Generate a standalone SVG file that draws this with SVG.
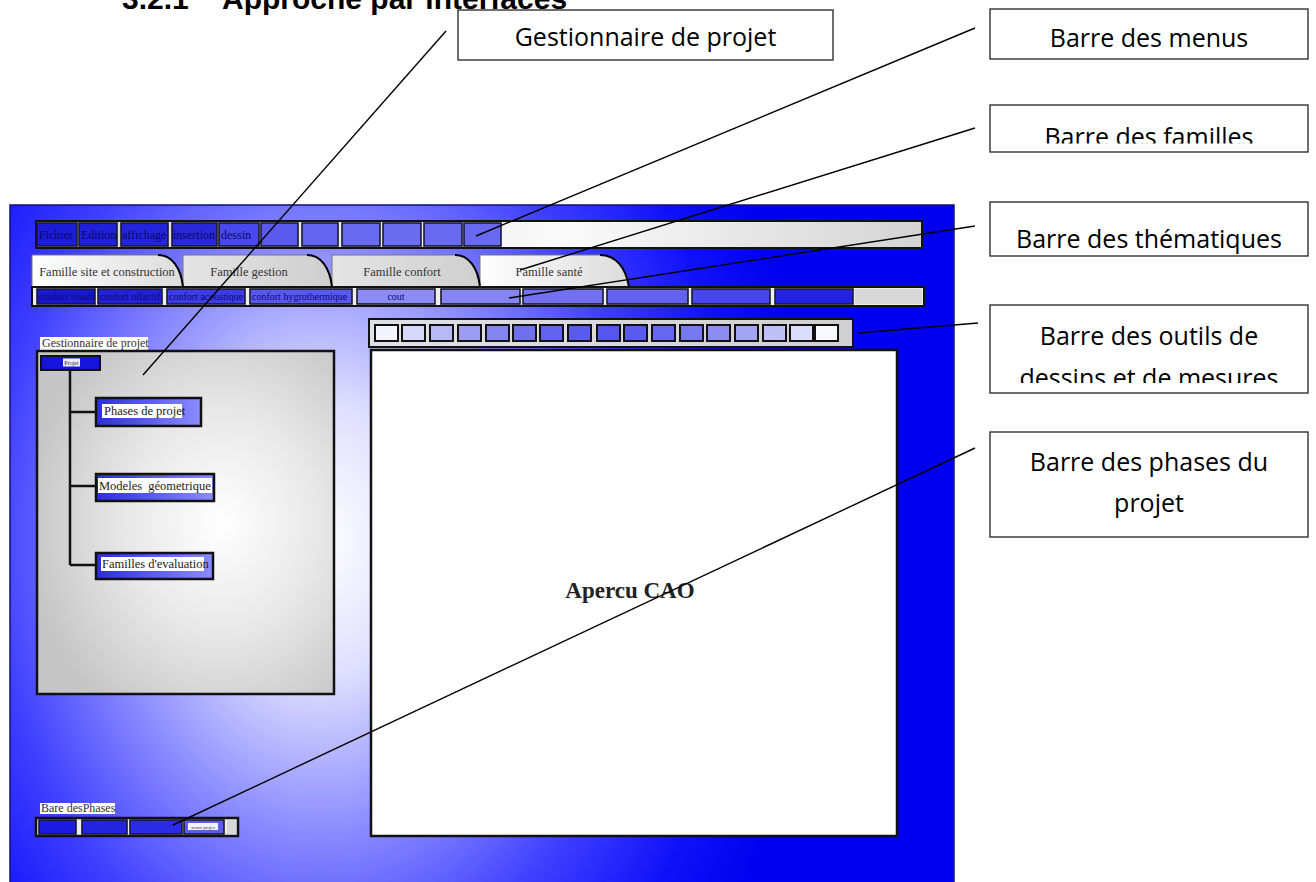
<svg xmlns="http://www.w3.org/2000/svg" width="1316" height="882" viewBox="0 0 1316 882">
<style>
.lbl{font-family:"Open Sans","Liberation Sans",sans-serif;font-size:25px;fill:#000;text-anchor:middle}
.lbox{fill:#fff;stroke:#222;stroke-width:1.3}
.ser{font-family:"Liberation Serif","Times New Roman",serif}
.btn{stroke:#1a1a2a;stroke-width:1.6}
.mtxt{font-family:"Liberation Serif","Times New Roman",serif;font-size:12px;fill:#08086a}
.ttxt{font-family:"Liberation Serif","Times New Roman",serif;font-size:10px;fill:#0a0a7a}
.tab{stroke:#777;stroke-width:1}
.tabc{fill:none;stroke:#000;stroke-width:2}
.tabt{font-family:"Liberation Serif","Times New Roman",serif;font-size:12.5px;fill:#333;text-anchor:middle}
.sq{stroke:#111;stroke-width:2}
.node{fill:url(#nodeG);stroke:#111;stroke-width:2.5}
.ntxt{font-family:"Liberation Serif","Times New Roman",serif;font-size:12.5px;fill:#222;white-space:pre}
.conn line{stroke:#000;stroke-width:1.4}
</style>
<defs>
<radialGradient id="bg" gradientUnits="userSpaceOnUse" cx="320" cy="540" r="500" gradientTransform="translate(320 540) scale(1 1.35) translate(-320 -540)">
<stop offset="0" stop-color="#ffffff"/>
<stop offset="0.2" stop-color="#e0e0ff"/>
<stop offset="0.42" stop-color="#9090ff"/>
<stop offset="0.65" stop-color="#4040ff"/>
<stop offset="0.85" stop-color="#1010f8"/>
<stop offset="1" stop-color="#0000ee"/>
</radialGradient>
<linearGradient id="barG" x1="0" y1="0" x2="1" y2="0">
<stop offset="0" stop-color="#d8d8e4"/>
<stop offset="0.6" stop-color="#fafafa"/>
<stop offset="1" stop-color="#d4d4d4"/>
</linearGradient>
<linearGradient id="tabW" x1="0" y1="0" x2="1" y2="0">
<stop offset="0" stop-color="#ffffff"/>
<stop offset="1" stop-color="#dcdcdc"/>
</linearGradient>
<linearGradient id="tabG" x1="0" y1="0" x2="1" y2="0">
<stop offset="0" stop-color="#e4e4e4"/>
<stop offset="1" stop-color="#cfcfcf"/>
</linearGradient>
<linearGradient id="toolG" x1="0" y1="0" x2="1" y2="0">
<stop offset="0" stop-color="#e0e0e8"/>
<stop offset="1" stop-color="#d0d0d0"/>
</linearGradient>
<radialGradient id="panelG" cx="0.62" cy="0.5" r="0.65">
<stop offset="0" stop-color="#ffffff"/>
<stop offset="0.5" stop-color="#e8e8e8"/>
<stop offset="1" stop-color="#c6c6c6"/>
</radialGradient>
<linearGradient id="nodeG" x1="0" y1="0" x2="1" y2="0">
<stop offset="0" stop-color="#2c2ce0"/>
<stop offset="1" stop-color="#8c8cff"/>
</linearGradient>
<clipPath id="clipFam"><rect x="990" y="105" width="318" height="38.5"/></clipPath>
<clipPath id="clipOut"><rect x="990" y="305" width="318" height="78"/></clipPath>
</defs>

<g id="title">
<text x="122" y="9" font-family="Liberation Sans, Arial, sans-serif" font-size="30" font-weight="bold" fill="#000">3.2.1</text>
<text x="222" y="9" font-family="Liberation Sans, Arial, sans-serif" font-size="30" font-weight="bold" fill="#000">Approche par interfaces</text>
</g>

<g id="screen">
<rect x="10" y="205" width="944" height="690" fill="url(#bg)" stroke="#10107a" stroke-width="1.5"/>
</g>

<g id="menu-bar">
<rect x="36" y="221" width="886" height="27" fill="url(#barG)" stroke="#111" stroke-width="2"/>
<rect class="btn" x="37" y="223" width="40" height="23" fill="#1c1cd8"/>
<rect class="btn" x="79" y="223" width="38" height="23" fill="#2020d8"/>
<rect class="btn" x="121" y="223" width="47" height="23" fill="#2424dc"/>
<rect class="btn" x="172" y="223" width="45" height="23" fill="#2828d8"/>
<rect class="btn" x="219" y="223" width="40" height="23" fill="#4848ee"/>
<rect class="btn" x="261" y="223" width="37" height="23" fill="#5a5aee"/>
<rect class="btn" x="302" y="223" width="36" height="23" fill="#6464f0"/>
<rect class="btn" x="342" y="223" width="38" height="23" fill="#6a6af0"/>
<rect class="btn" x="383" y="223" width="38" height="23" fill="#6c6cf0"/>
<rect class="btn" x="424" y="223" width="38" height="23" fill="#6a6af0"/>
<rect class="btn" x="464" y="223" width="37" height="23" fill="#6868f0"/>
<text class="mtxt" x="39" y="239">Fichier</text>
<text class="mtxt" x="81" y="239">Edition</text>
<text class="mtxt" x="122" y="239">affichage</text>
<text class="mtxt" x="173" y="239">insertion</text>
<text class="mtxt" x="221" y="239">dessin</text>
</g>

<g id="family-tabs">
<path class="tab" d="M32,287 V255 H158 C172,255 181,268 183,287 Z" fill="url(#tabW)"/>
<path class="tab" d="M183,287 V255 H307 C321,255 330,268 332,287 Z" fill="url(#tabG)"/>
<path class="tab" d="M332,287 V255 H455 C469,255 478,268 480,287 Z" fill="url(#tabG)"/>
<path class="tab" d="M480,287 V255 H600 C616,255 626,268 629,287 Z" fill="url(#tabW)"/>
<path class="tabc" d="M158,255 C172,255 181,268 183,287"/>
<path class="tabc" d="M307,255 C321,255 330,268 332,287"/>
<path class="tabc" d="M455,255 C469,255 478,268 480,287"/>
<path class="tabc" d="M600,255 C616,255 626,268 629,287"/>
<text class="tabt" x="107" y="276">Famille site et construction</text>
<text class="tabt" x="249" y="276">Famille gestion</text>
<text class="tabt" x="402" y="276">Famille confort</text>
<text class="tabt" x="549" y="276">Famille santé</text>
</g>

<g id="thematic-bar">
<rect x="32" y="287" width="892" height="19" fill="#eeeeee" stroke="#111" stroke-width="2"/>
<rect x="855" y="289" width="67" height="15" fill="#d8d8d8"/>
<rect class="btn" x="37" y="289" width="58" height="15" fill="#1818d0"/>
<rect class="btn" x="98" y="289" width="64" height="15" fill="#2222d8"/>
<rect class="btn" x="167" y="289" width="78" height="15" fill="#3c3ce8"/>
<rect class="btn" x="250" y="289" width="102" height="15" fill="#5858ee"/>
<rect class="btn" x="357" y="289" width="78" height="15" fill="#8c8cf4"/>
<rect class="btn" x="441" y="289" width="79" height="15" fill="#8484f2"/>
<rect class="btn" x="523" y="289" width="80" height="15" fill="#7272f0"/>
<rect class="btn" x="607" y="289" width="81" height="15" fill="#6262ee"/>
<rect class="btn" x="692" y="289" width="78" height="15" fill="#4646ec"/>
<rect class="btn" x="775" y="289" width="78" height="15" fill="#2222e4"/>
<text class="ttxt" x="39" y="300" fill="#04045a">confort visuel</text>
<text class="ttxt" x="100" y="300" fill="#06066a">confort olfactif</text>
<text class="ttxt" x="169" y="300">confort acoustique</text>
<text class="ttxt" x="252" y="300">confort hygrothermique</text>
<text class="ttxt" x="396" y="300" text-anchor="middle" fill="#333">cout</text>
</g>

<g id="tools-bar">
<rect x="369" y="319" width="484" height="28" fill="url(#toolG)" stroke="#111" stroke-width="2"/>
<rect class="sq" x="375" y="325" width="23" height="16" fill="#f4f4ff"/>
<rect class="sq" x="402" y="325" width="23" height="16" fill="#d8d8fa"/>
<rect class="sq" x="430" y="325" width="23" height="16" fill="#b8b8f6"/>
<rect class="sq" x="458" y="325" width="23" height="16" fill="#9c9cf2"/>
<rect class="sq" x="486" y="325" width="23" height="16" fill="#8484f0"/>
<rect class="sq" x="513" y="325" width="23" height="16" fill="#7070ee"/>
<rect class="sq" x="540" y="325" width="23" height="16" fill="#6262ee"/>
<rect class="sq" x="568" y="325" width="23" height="16" fill="#5a5aee"/>
<rect class="sq" x="597" y="325" width="23" height="16" fill="#5656ee"/>
<rect class="sq" x="624" y="325" width="23" height="16" fill="#5a5aee"/>
<rect class="sq" x="652" y="325" width="23" height="16" fill="#6666ee"/>
<rect class="sq" x="680" y="325" width="23" height="16" fill="#7878f0"/>
<rect class="sq" x="707" y="325" width="23" height="16" fill="#8c8cf2"/>
<rect class="sq" x="735" y="325" width="23" height="16" fill="#a4a4f4"/>
<rect class="sq" x="763" y="325" width="23" height="16" fill="#c0c0f8"/>
<rect class="sq" x="790" y="325" width="23" height="16" fill="#dcdcfc"/>
<rect class="sq" x="815" y="325" width="23" height="16" fill="#f8f8ff"/>
</g>

<g id="cad-view">
<rect x="371" y="350" width="526" height="486" fill="#fff" stroke="#111" stroke-width="2.5"/>
<text x="630" y="598" class="ser" font-size="23" font-weight="bold" fill="#222" text-anchor="middle">Apercu CAO</text>
</g>

<g id="project-manager">
<rect x="40" y="337" width="108" height="13" fill="#fff"/>
<text x="42" y="347" class="ser" font-size="12" fill="#333">Gestionnaire de projet</text>
<rect x="37" y="351" width="297" height="343" fill="url(#panelG)" stroke="#111" stroke-width="2.5"/>
<path d="M70,370 V565 M70,412 H96 M70,486 H96 M70,565 H96" fill="none" stroke="#111" stroke-width="2.5"/>
<g id="node-projet">
<rect x="41" y="356" width="59" height="14" fill="#1414dc" stroke="#111" stroke-width="2"/>
<rect x="63" y="358.5" width="17" height="8" fill="#f0f0ff"/>
<text x="71.5" y="365" class="ser" font-size="6" fill="#222" text-anchor="middle">Projet</text>
</g>
<g id="node-phases">
<rect class="node" x="96" y="398" width="105" height="28"/>
<rect x="102" y="404" width="80" height="14" fill="#fff"/>
<text class="ntxt" x="104" y="415">Phases de projet</text>
</g>
<g id="node-modeles">
<rect class="node" x="96" y="474" width="118" height="27"/>
<rect x="98" y="478" width="114" height="15" fill="#fff"/>
<text class="ntxt" x="99" y="490">Modeles  géometrique</text>
</g>
<g id="node-familles">
<rect class="node" x="96" y="553" width="117" height="26"/>
<rect x="101" y="557" width="103" height="14" fill="#fff"/>
<text class="ntxt" x="102" y="568" font-size="12">Familles d'evaluation</text>
</g>
</g>

<g id="phases-bar">
<rect x="40" y="803" width="75" height="11" fill="#fff"/>
<text x="41" y="812" class="ser" font-size="12" fill="#333">Bare desPhases</text>
<rect x="36" y="818" width="202" height="18" fill="#eeeeee" stroke="#111" stroke-width="2.5"/>
<rect x="227" y="820" width="9" height="14" fill="#d8d8d8"/>
<rect class="btn" x="39" y="820" width="37" height="14" fill="#1a1ae0"/>
<rect class="btn" x="82" y="820" width="45" height="14" fill="#2424e0"/>
<rect class="btn" x="130" y="820" width="52" height="14" fill="#2c2ce8"/>
<rect class="btn" x="184" y="820" width="40" height="14" fill="#5c5cf0"/>
<rect x="188" y="823" width="30" height="7" fill="#f4f4ff"/>
<text x="203" y="828.5" class="ser" font-size="5" fill="#333" text-anchor="middle">avant projet</text>
</g>

<g id="label-gestionnaire">
<rect class="lbox" x="458" y="10" width="375" height="50"/>
<text class="lbl" x="645.5" y="46">Gestionnaire de projet</text>
</g>
<g id="label-menus">
<rect class="lbox" x="990" y="9" width="318" height="50"/>
<text class="lbl" x="1149" y="47">Barre des menus</text>
</g>
<g id="label-familles">
<rect class="lbox" x="990" y="105" width="318" height="47"/>
<text class="lbl" x="1149" y="146" clip-path="url(#clipFam)">Barre des familles</text>
</g>
<g id="label-thematiques">
<rect class="lbox" x="990" y="202" width="318" height="54"/>
<text class="lbl" x="1149" y="248">Barre des thématiques</text>
</g>
<g id="label-outils">
<rect class="lbox" x="990" y="305" width="318" height="88"/>
<g clip-path="url(#clipOut)">
<text class="lbl" x="1149" y="345">Barre des outils de</text>
<text class="lbl" x="1149" y="387">dessins et de mesures</text>
</g>
</g>
<g id="label-phases">
<rect class="lbox" x="990" y="432" width="318" height="105"/>
<text class="lbl" x="1149" y="471">Barre des phases du</text>
<text class="lbl" x="1149" y="512">projet</text>
</g>

<g id="connectors" class="conn">
<line x1="446" y1="31" x2="143" y2="375"/>
<line x1="975" y1="28" x2="476" y2="236"/>
<line x1="975" y1="128" x2="520" y2="270"/>
<line x1="975" y1="226" x2="509" y2="298"/>
<line x1="978" y1="323" x2="858" y2="333"/>
<line x1="975" y1="448" x2="173" y2="825"/>
</g>
</svg>
